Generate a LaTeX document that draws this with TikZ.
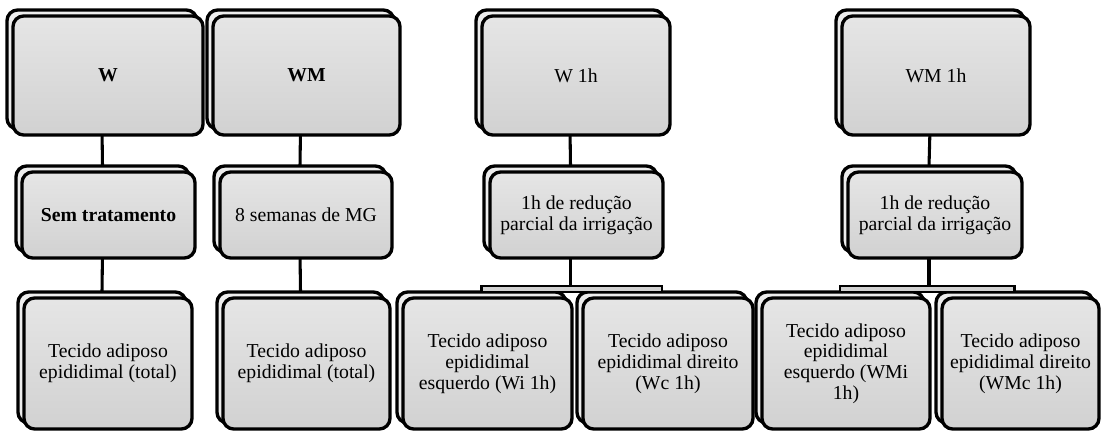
\documentclass[tikz,border=0pt]{standalone}
\usepackage{fontspec}
\setmainfont{Liberation Serif}
\usetikzlibrary{calc,backgrounds}
\tikzset{
  boxline/.style={draw=black, line width=2.5pt, rounded corners=8pt, outer sep=0pt, inner sep=2pt},
  backbox/.style={boxline, fill=black!7},
  frontbox/.style={boxline, top color=black!10, bottom color=black!18, align=center,
                   font=\fontsize{14.8}{15.6}\selectfont},
  conn/.style={line width=2.3pt},
  barbox/.style={draw=black, line width=2pt, fill=black!18},
}
\newcommand\dbox[6]{%
  \node[backbox, minimum width=#4*0.75pt, minimum height=#5*0.75pt] (#1B) at (#2-6,#3-6) {};
  \node[frontbox, minimum width=#4*0.75pt, minimum height=#5*0.75pt] (#1) at (#2,#3) {#6};
}
\begin{document}
\begin{tikzpicture}[x=0.75pt,y=-0.75pt]
\useasboundingbox (0,0) rectangle (1102,432);
% top row
\dbox{t1}{108}{75.5}{190}{119}{\textbf{W}}
\dbox{t2}{306.5}{75.5}{187}{119}{\textbf{WM}}
\dbox{t3}{576}{75.5}{188}{119}{W 1h}
\dbox{t4}{936}{75.5}{188}{119}{WM 1h}
% middle row
\dbox{m1}{108.5}{215}{173}{86}{\textbf{Sem tratamento}}
\dbox{m2}{306}{215}{172}{86}{8 semanas de MG}
\dbox{m3}{576.5}{215}{173}{86}{1h de redução\\parcial da irrigação}
\dbox{m4}{935}{215}{174}{86}{1h de redução\\parcial da irrigação}
% bottom row
\dbox{b1}{108}{363.5}{168}{131}{Tecido adiposo\\epididimal (total)}
\dbox{b2}{306.5}{363.5}{167}{131}{Tecido adiposo\\epididimal (total)}
\dbox{b3l}{487.5}{363.5}{169}{131}{Tecido adiposo\\epididimal\\esquerdo (Wi 1h)}
\dbox{b3r}{668}{363.5}{170}{131}{Tecido adiposo\\epididimal direito\\(Wc 1h)}
\dbox{b4l}{846}{363.5}{168}{131}{Tecido adiposo\\epididimal\\esquerdo (WMi\\1h)}
\dbox{b4r}{1020.5}{363.5}{157}{131}{Tecido adiposo\\epididimal direito\\(WMc 1h)}
% connectors
\coordinate (bar3) at ($(b3lB.north)+(0,-6)$);
\coordinate (bar4) at ($(b4lB.north)+(0,-6)$);
\begin{scope}[on background layer]
  \draw[conn] (t1B.south) -- (m1B.north);
  \draw[conn] (m1B.south) -- (b1B.north);
  \draw[conn] (t2B.south) -- (m2B.north);
  \draw[conn] (m2B.south) -- (b2B.north);
  \draw[conn] (t3B.south) -- (m3B.north);
  \draw[conn] (m3B.south) -- (m3B.south |- bar3);
  \draw[conn] (t4B.south) -- (m4B.north);
  \draw[conn] (m4B.south) -- (m4B.south |- bar4);
\end{scope}
\draw[barbox] (bar3) rectangle (b3rB.north);
\draw[barbox] (bar4) rectangle (b4rB.north);
\end{tikzpicture}
\end{document}
